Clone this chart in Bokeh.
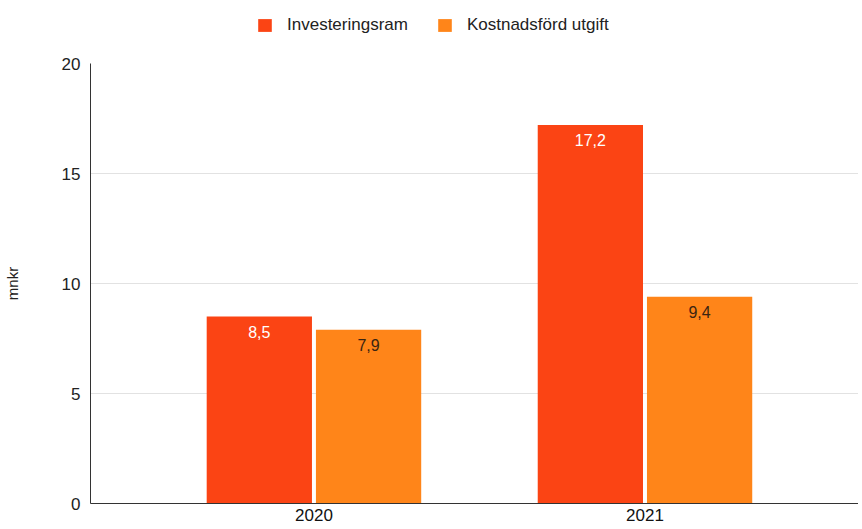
from bokeh.plotting import figure
from bokeh.layouts import column
from bokeh.models import ColumnDataSource, Legend, LegendItem, FixedTicker, Range1d, LabelSet
from bokeh.core.properties import value
from bokeh.embed import file_html
from bokeh.resources import INLINE

years = ["2020", "2021"]
investeringsram = [8.5, 17.2]
kostnadsford = [7.9, 9.4]
series_names = ["Investeringsram", "Kostnadsförd utgift"]
y_ticks = [0, 5, 10, 15, 20]

FONT = "Liberation Sans"
RED = "#fb4414"
ORANGE = "#ff8519"
W = 858

xs = list(range(len(years)))
off = 0.165
bw = 0.318

src_r = ColumnDataSource(dict(x=[v - off for v in xs], top=investeringsram,
                              lab=[f"{v:.1f}".replace(".", ",") for v in investeringsram]))
src_o = ColumnDataSource(dict(x=[v + off for v in xs], top=kostnadsford,
                              lab=[f"{v:.1f}".replace(".", ",") for v in kostnadsford]))

# ---- legend strip (same series, hidden renderers, only the legend shows) ----
lf = figure(width=W, height=56, output_backend="svg", toolbar_location=None,
            x_range=Range1d(1000, 1001), y_range=Range1d(1000, 1001),
            min_border=0, min_border_left=0, min_border_right=0, min_border_top=0, min_border_bottom=0)
lf.axis.visible = False
lf.grid.visible = False
lf.outline_line_color = None
lr1 = lf.vbar(x="x", top="top", width=bw, source=src_r, fill_color=RED, line_color=None)
lr2 = lf.vbar(x="x", top="top", width=bw, source=src_o, fill_color=ORANGE, line_color=None)
lr1.visible = False
lr2.visible = False
legend = Legend(items=[LegendItem(label=series_names[0], renderers=[lr1]),
                       LegendItem(label=series_names[1], renderers=[lr2])],
                orientation="horizontal", location=(166, 21),
                label_text_font=FONT, label_text_font_size="17px", label_text_color="#222222",
                glyph_width=17, glyph_height=16, label_standoff=14, spacing=28,
                label_height=16, padding=0, margin=0, border_line_color=None,
                background_fill_alpha=0, inactive_fill_alpha=0)
lf.add_layout(legend, "center")

# ---- main chart ----
p = figure(width=W, height=471, output_backend="svg", toolbar_location=None,
           x_range=Range1d(-0.675, 1.645), y_range=Range1d(0, 20),
           min_border_left=90, min_border_right=0, min_border_top=7, min_border_bottom=24)
p.outline_line_color = None
p.background_fill_color = "white"

p.vbar(x="x", top="top", width=bw, source=src_r, fill_color=RED, line_color=None)
p.vbar(x="x", top="top", width=bw, source=src_o, fill_color=ORANGE, line_color=None)

p.add_layout(LabelSet(x="x", y="top", text="lab", source=src_r, text_color="white",
                      text_font=value(FONT), text_font_size="16px", text_align="center",
                      text_baseline="middle", y_offset=-15))
p.add_layout(LabelSet(x="x", y="top", text="lab", source=src_o, text_color="#3a2412",
                      text_font=value(FONT), text_font_size="16px", text_align="center",
                      text_baseline="middle", y_offset=-15))

p.xaxis.ticker = FixedTicker(ticks=xs)
p.xaxis.major_label_overrides = {i: y for i, y in enumerate(years)}
p.xaxis.major_tick_line_color = None
p.xaxis.major_tick_out = 0
p.xaxis.major_tick_in = 0
p.xaxis.minor_tick_line_color = None
p.xaxis.axis_line_color = "#333333"
p.xaxis.major_label_text_font = FONT
p.xaxis.major_label_text_font_size = "17px"
p.xaxis.major_label_text_color = "#111111"
p.xaxis.major_label_standoff = 5
p.xgrid.grid_line_color = None

p.yaxis.ticker = FixedTicker(ticks=y_ticks)
p.yaxis.major_tick_line_color = None
p.yaxis.major_tick_out = 0
p.yaxis.major_tick_in = 0
p.yaxis.minor_tick_line_color = None
p.yaxis.axis_line_color = "#333333"
p.yaxis.major_label_text_font = FONT
p.yaxis.major_label_text_font_size = "17px"
p.yaxis.major_label_text_color = "#222222"
p.yaxis.major_label_standoff = 10
p.yaxis.axis_label = "mnkr"
p.yaxis.axis_label_text_font = FONT
p.yaxis.axis_label_text_font_size = "15px"
p.yaxis.axis_label_text_font_style = "normal"
p.yaxis.axis_label_text_color = "#222222"
p.yaxis.axis_label_standoff = 38
p.ygrid.grid_line_color = "#e2e2e2"

layout = column(lf, p, spacing=0)
open("out.html", "w").write(file_html(layout, INLINE))
